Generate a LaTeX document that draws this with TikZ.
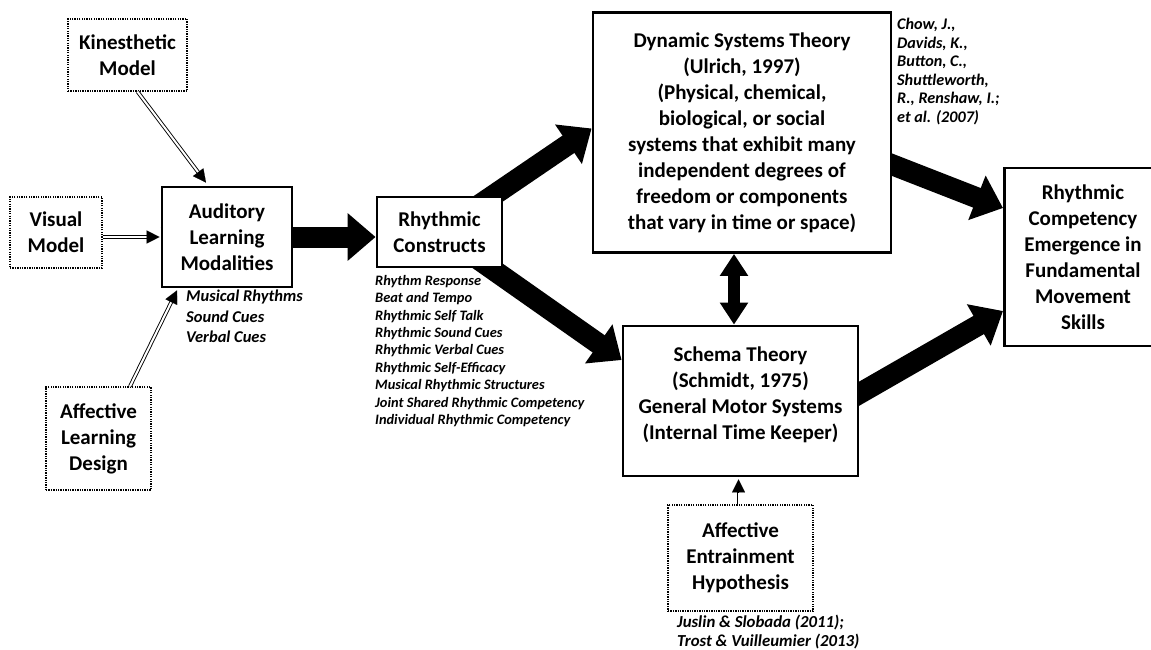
\documentclass[tikz,border=0pt]{standalone}
\usepackage{fontspec}
\setmainfont{Carlito}
\usetikzlibrary{arrows.meta,calc}
\pgfdeclarelayer{bg}
\pgfsetlayers{bg,main}
\begin{document}
\begin{tikzpicture}[x=1pt,y=-1pt,
  boxtext/.style={align=center, inner sep=0pt, fill=white, font=\bfseries\fontsize{21}{26}\selectfont},
  thickbox/.style={boxtext, draw, line width=2.8pt},
  dotbox/.style={boxtext, draw, line width=1.3pt, dash pattern=on 1.3pt off 1.1pt},
  note/.style={align=left, inner sep=0pt, anchor=north west},
  bigarrow/.style={line width=21pt, -{Triangle[length=28pt,width=46pt]}},
  dline/.style={double, double distance=2pt, line width=0.9pt},
  dtip/.style={line width=0.1pt, -{Triangle[length=13pt,width=13pt]}}
]
\useasboundingbox (0,0) rectangle (1151,650);

% nodes
\node[dotbox, minimum width=119pt, minimum height=72pt] (kin) at (127.5,55) {Kinesthetic\\Model};
\node[dotbox, minimum width=92pt, minimum height=71pt] (vis) at (56,232.5) {Visual\\Model};
\node[thickbox, minimum width=130pt, minimum height=100pt] (aud) at (227,237) {Auditory\\Learning\\Modalities};
\node[dotbox, minimum width=105pt, minimum height=103pt] (aff) at (98.5,438.5) {Affective\\Learning\\Design};
\node[thickbox, minimum width=125pt, minimum height=70pt] (rc) at (439.5,232) {Rhythmic\\Constructs};
\node[thickbox, minimum width=298pt, minimum height=240pt] (dst) at (742,132.5) {Dynamic Systems Theory\\(Ulrich, 1997)\\(Physical, chemical,\\biological, or social\\systems that exhibit many\\independent degrees of\\freedom or components\\that vary in time or space)};
\node[thickbox, minimum width=235pt, minimum height=150pt] (sch) at (740.5,401) {Schema Theory\\(Schmidt, 1975)\\General Motor Systems\\(Internal Time Keeper)\\[-11pt]\mbox{}};
\node[dotbox, minimum width=145pt, minimum height=106pt] (aeh) at (740.5,558) {Affective\\Entrainment\\Hypothesis};
\node[draw, line width=2.8pt, fill=white, minimum width=200pt, minimum height=178pt, anchor=west] (comp) at (1003,257) {};
\node[boxtext, fill=none] (comptext) at (1083,257) {Rhythmic\\Competency\\Emergence in\\Fundamental\\Movement\\Skills};

% notes
\node[note, font=\bfseries\itshape\fontsize{16.5}{20.5}\selectfont] (mus) at (186,290) {Musical Rhythms\\Sound Cues\\Verbal Cues};
\node[note, font=\bfseries\itshape\fontsize{14.4}{17.4}\selectfont] (list) at (375,275) {Rhythm Response\\Beat and Tempo\\Rhythmic Self Talk\\Rhythmic Sound Cues\\Rhythmic Verbal Cues\\Rhythmic Self-Efficacy\\Musical Rhythmic Structures\\Joint Shared Rhythmic Competency\\Individual Rhythmic Competency};
\node[note, font=\bfseries\itshape\fontsize{16.2}{18.5}\selectfont] (chow) at (897,18) {Chow, J.,\\Davids, K.,\\Button, C.,\\Shuttleworth,\\R., Renshaw, I.;\\et al. (2007)};
\node[note, font=\bfseries\itshape\fontsize{16.8}{18.8}\selectfont] (jus) at (677,615) {Juslin \& Slobada (2011);\\Trost \& Vuilleumier (2013)};

% big connectors behind the boxes
\begin{pgfonlayer}{bg}
\fill[white] (0,0) rectangle (1151,650);
\draw[bigarrow] (aud.west |- aud.center) -- (aud.center -| rc.west);
\draw[bigarrow] (rc.center) -- ($(dst.west)+(0,-4)$);
\draw[bigarrow] (rc.center) -- ($(sch.west)+(0,-41)$);
\draw[bigarrow] ($(dst.east)+(-6,30)$) -- ($(comp.west)+(0,-49)$);
\draw[bigarrow] ($(sch.east)+(-6,-4)$) -- ($(comp.west)+(0,54)$);
\end{pgfonlayer}
\draw[line width=12pt, {Triangle[length=22pt,width=27pt]}-{Triangle[length=22pt,width=27pt]}] ($(dst.south)+(-8,0)$) -- ($(sch.north)+(-6.5,0)$);

% double-line arrows
\coordinate (k1) at ($(kin.south)+(10,0)$);
\coordinate (k2) at ($(aud.north)+(-21,-3)$);
\draw[dline] (k1) -- ($(k2)!12pt!(k1)$);
\draw[dtip] ($(k2)!13pt!(k1)$) -- (k2);

\coordinate (v1) at (aud.west -| vis.east);
\coordinate (v2) at ($(aud.west)+(-1,0)$);
\draw[dline] (v1) -- ($(v2)!12pt!(v1)$);
\draw[dtip] ($(v2)!13pt!(v1)$) -- (v2);

\coordinate (a1) at ($(aff.north)+(31.5,0)$);
\coordinate (a2) at ($(aud.south)+(-50,2)$);
\draw[dline] (a1) -- ($(a2)!12pt!(a1)$);
\draw[dtip] ($(a2)!13pt!(a1)$) -- (a2);

\coordinate (e1) at ($(aeh.north)+(-2,0)$);
\coordinate (e2) at ($(sch.south)+(-2,2)$);
\draw[dline] (e1) -- ($(e2)!12pt!(e1)$);
\draw[dtip] ($(e2)!13pt!(e1)$) -- (e2);
\end{tikzpicture}
\end{document}
